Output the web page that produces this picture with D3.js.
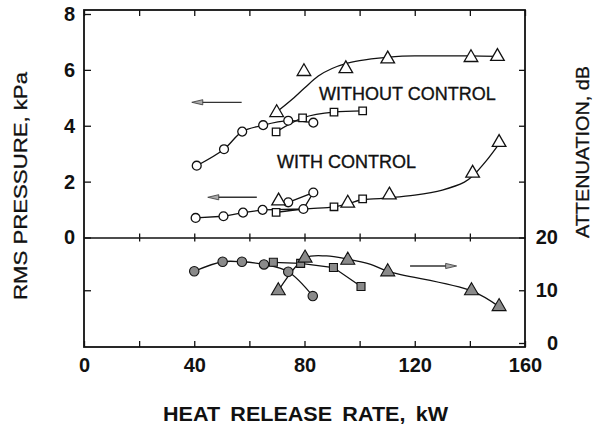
<!DOCTYPE html>
<html><head><meta charset="utf-8">
<script src="https://cdn.jsdelivr.net/npm/d3@7"></script>
<style>body{margin:0;background:#fff}</style>
</head><body>
<svg id="chart" width="601" height="425"></svg>
<script>
// ---------- data ----------
const xTicks = [0, 20, 40, 60, 80, 100, 120, 140, 160];
const xLabelTicks = [0, 40, 80, 120, 160];
const pTicks = [0, 2, 4, 6, 8];
const aTicks = [0, 10, 20];

// RMS pressure, without control
const woCircleHeat = [40.9, 50.8, 57.4, 65, 74.1, 83.2];
const woCircleP    = [2.57, 3.16, 3.79, 4.02, 4.18, 4.11];
const woSquareHeat = [69.7, 79.3, 90.7, 101.1];
const woSquareP    = [3.78, 4.28, 4.49, 4.53];
const woTriHeat    = [69.9, 79.8, 95, 110.2, 140.4, 150];
const woTriP       = [4.47, 5.94, 6.04, 6.39, 6.44, 6.48];
const woTriFitHeat = [70, 75, 80, 85, 90, 95, 100, 110, 120, 140, 150];
const woTriFitP    = [4.5, 4.9, 5.35, 5.78, 6.05, 6.22, 6.33, 6.45, 6.5, 6.5, 6.48];

// RMS pressure, with control
const wcCircleHeat = [40.5, 50.6, 57.7, 64.8, 79.6, 83.2, 74.1];
const wcCircleP    = [0.70, 0.76, 0.89, 0.99, 1.02, 1.61, 1.26];
const wcSquareHeat = [69.7, 90.7, 101.1];
const wcSquareP    = [0.9, 1.1, 1.38];
const wcTriHeat    = [70.6, 95.7, 110.8, 141, 150.6];
const wcTriP       = [1.31, 1.23, 1.52, 2.3, 3.4];
const wcFitHeat    = [69.7, 80, 90.7, 95.7, 101, 105, 110, 120, 130, 138, 141, 146, 150.6];
const wcFitP       = [0.9, 1.02, 1.1, 1.2, 1.36, 1.38, 1.42, 1.52, 1.7, 1.98, 2.2, 2.75, 3.35];

// Attenuation
const atCircleHeat = [40, 50.3, 57.3, 65.3, 74.1, 83];
const atCircleA    = [13.6, 15.4, 15.4, 14.9, 13.5, 8.9];
const atSquareHeat = [68.7, 78.6, 90.5, 100.5];
const atSquareA    = [15.3, 15.1, 14.3, 10.7];
const atTriHeat    = [70.5, 80.2, 95.7, 110.2, 140.6, 150.6];
const atTriA       = [9.9, 16.1, 15.7, 13.5, 9.9, 6.9];
const atTriFitHeat = [70.5, 80.2, 88, 95.7, 104, 110.2, 140.6, 150.6];
const atTriFitA    = [9.9, 16.1, 16.5, 15.9, 14.9, 13.6, 9.9, 6.9];

// arrows (axis they refer to), heat from -> to, value
const arrowPanel   = ["p", "p", "a"];
const arrowFromX   = [57.2, 62.7, 118.3];
const arrowToX     = [39.1, 44.9, 135.2];
const arrowVal     = [4.84, 1.44, 14.6];

const labels = {
  x: "HEAT RELEASE RATE, kW",
  yl: "RMS PRESSURE, kPa",
  yr: "ATTENUATION, dB",
  wo: "WITHOUT CONTROL",
  wc: "WITH CONTROL"
};

// ---------- layout ----------
const svg = d3.select("#chart");
const FONT = "'Liberation Sans', Arial, Helvetica, sans-serif";
const fL = 84, fR = 525, fT = 10, fB = 347, sepY = 237.5;

const x  = d3.scaleLinear([0, 160], [fL, fR]);
const yP = d3.scaleLinear([0, 8], [sepY, 14]);
const yA = d3.scaleLinear([0, 20], [343, sepY]);

const zip = (a, b) => a.map((v, i) => [v, b[i]]);

// frame
svg.append("rect").attr("x", fL).attr("y", fT)
  .attr("width", fR - fL).attr("height", fB - fT)
  .attr("fill", "none").attr("stroke", "#111").attr("stroke-width", 1.8);

function styleAxis(g, keepDomain) {
  if (!keepDomain) g.select(".domain").remove();
  g.selectAll(".tick line").attr("stroke", "#111").attr("stroke-width", 1.3);
  g.selectAll("text").attr("font-family", FONT).attr("font-size", 20)
    .attr("font-weight", "bold").attr("fill", "#111");
}

// bottom axis
const gB = svg.append("g").attr("transform", `translate(0,${fB})`)
  .call(d3.axisBottom(x).tickValues(xTicks).tickSizeInner(-6).tickSizeOuter(0)
    .tickFormat(d => xLabelTicks.includes(d) ? d : ""));
styleAxis(gB);
gB.selectAll("text").attr("y", 25).attr("dy", 0);

// top axis
const gT = svg.append("g").attr("transform", `translate(0,${fT})`)
  .call(d3.axisTop(x).tickValues(xTicks).tickSizeInner(-6).tickSizeOuter(0).tickFormat(""));
styleAxis(gT);

// separator axis with crossing ticks
const gS1 = svg.append("g").attr("transform", `translate(0,${sepY})`)
  .call(d3.axisBottom(x).tickValues(xTicks.slice(1, -1)).tickSizeInner(4).tickSizeOuter(0).tickFormat(""));
styleAxis(gS1, true);
gS1.select(".domain").attr("stroke", "#111").attr("stroke-width", 1.6);
const gS2 = svg.append("g").attr("transform", `translate(0,${sepY})`)
  .call(d3.axisTop(x).tickValues(xTicks.slice(1, -1)).tickSizeInner(4).tickSizeOuter(0).tickFormat(""));
styleAxis(gS2);

// left axes
const gL = svg.append("g").attr("transform", `translate(${fL},0)`)
  .call(d3.axisLeft(yP).tickValues(pTicks).tickSizeInner(-7).tickSizeOuter(0).tickPadding(9));
styleAxis(gL);
const gL2 = svg.append("g").attr("transform", `translate(${fL},0)`)
  .call(d3.axisLeft(yA).tickValues([10]).tickSizeInner(-7).tickSizeOuter(0).tickFormat(""));
styleAxis(gL2);

// right axes
const gR = svg.append("g").attr("transform", `translate(${fR},0)`)
  .call(d3.axisRight(yP).tickValues([2, 4, 6]).tickSizeInner(-6).tickSizeOuter(0).tickFormat(""));
styleAxis(gR);
const gR2 = svg.append("g").attr("transform", `translate(${fR},0)`)
  .call(d3.axisRight(yA).tickValues(aTicks).tickSizeInner(-6).tickSizeOuter(0));
styleAxis(gR2);
gR2.selectAll("text").attr("text-anchor", "end").attr("x", 33);

// ---------- lines ----------
const plot = svg.append("g");
function drawLine(pts, ys, curve) {
  plot.append("path")
    .attr("d", d3.line().x(d => x(d[0])).y(d => ys(d[1])).curve(curve)(pts))
    .attr("fill", "none").attr("stroke", "#111").attr("stroke-width", 1.3);
}
drawLine(zip(woCircleHeat, woCircleP), yP, d3.curveCatmullRom);
drawLine(zip(woSquareHeat, woSquareP), yP, d3.curveMonotoneX);
drawLine(zip(woTriFitHeat, woTriFitP), yP, d3.curveMonotoneX);
drawLine(zip(wcCircleHeat, wcCircleP), yP, d3.curveLinear);
drawLine(zip(wcFitHeat, wcFitP), yP, d3.curveCatmullRom);
drawLine(zip(atCircleHeat, atCircleA), yA, d3.curveCatmullRom);
drawLine(zip(atSquareHeat, atSquareA), yA, d3.curveLinear);
drawLine(zip(atTriFitHeat, atTriFitA), yA, d3.curveCatmullRom);

// ---------- markers ----------
function drawMarkers(pts, ys, type, filled, size) {
  plot.selectAll(null).data(pts).enter().append("path")
    .attr("transform", d => `translate(${x(d[0])},${ys(d[1])})`)
    .attr("d", d3.symbol().type(type).size(size)())
    .attr("fill", filled ? "#8a8a8a" : "#fff")
    .attr("stroke", "#111").attr("stroke-width", filled ? 1.1 : 1.3);
}
drawMarkers(zip(woCircleHeat, woCircleP), yP, d3.symbolCircle, false, 62);
drawMarkers(zip(woSquareHeat, woSquareP), yP, d3.symbolSquare, false, 56);
drawMarkers(zip(woTriHeat, woTriP), yP, d3.symbolTriangle, false, 80);
drawMarkers(zip(wcCircleHeat, wcCircleP), yP, d3.symbolCircle, false, 62);
drawMarkers(zip(wcSquareHeat, wcSquareP), yP, d3.symbolSquare, false, 56);
drawMarkers(zip(wcTriHeat, wcTriP), yP, d3.symbolTriangle, false, 80);
drawMarkers(zip(atCircleHeat, atCircleA), yA, d3.symbolCircle, true, 70);
drawMarkers(zip(atSquareHeat, atSquareA), yA, d3.symbolSquare, true, 64);
drawMarkers(zip(atTriHeat, atTriA), yA, d3.symbolTriangle, true, 85);

// ---------- arrows ----------
arrowPanel.forEach((p, i) => {
  const ys = p === "p" ? yP : yA;
  const x1 = x(arrowFromX[i]), x2 = x(arrowToX[i]), yy = ys(arrowVal[i]);
  const dir = Math.sign(x2 - x1);
  svg.append("line").attr("x1", x1).attr("x2", x2 - dir * 6).attr("y1", yy).attr("y2", yy)
    .attr("stroke", "#333").attr("stroke-width", 1.3);
  svg.append("path")
    .attr("d", `M${x2},${yy} L${x2 - dir * 11},${yy - 2.6} L${x2 - dir * 11},${yy + 2.6} Z`)
    .attr("fill", "#aaa").attr("stroke", "#333").attr("stroke-width", 0.8);
});

// ---------- texts ----------
svg.append("text").attr("x", 319).attr("y", 100).text(labels.wo)
  .attr("font-family", FONT).attr("font-size", 18).attr("fill", "#111")
  .attr("stroke", "#111").attr("stroke-width", 0.35);
svg.append("text").attr("x", 277).attr("y", 168).text(labels.wc)
  .attr("font-family", FONT).attr("font-size", 18).attr("fill", "#111")
  .attr("stroke", "#111").attr("stroke-width", 0.35);

svg.append("text").attr("x", 305.5).attr("y", 421).text(labels.x)
  .attr("text-anchor", "middle").attr("font-family", FONT).attr("font-size", 20)
  .attr("font-weight", "bold").attr("fill", "#111").attr("word-spacing", 4)
  .attr("textLength", 285).attr("lengthAdjust", "spacingAndGlyphs");

svg.append("text").attr("transform", "translate(27,186) rotate(-90)").text(labels.yl)
  .attr("text-anchor", "middle").attr("font-family", FONT).attr("font-size", 19)
  .attr("fill", "#111").attr("stroke", "#111").attr("stroke-width", 0.3)
  .attr("textLength", 228).attr("lengthAdjust", "spacingAndGlyphs");

svg.append("text").attr("transform", "translate(589,152) rotate(-90)").text(labels.yr)
  .attr("text-anchor", "middle").attr("font-family", FONT).attr("font-size", 19)
  .attr("fill", "#111").attr("stroke", "#111").attr("stroke-width", 0.3)
  .attr("textLength", 172).attr("lengthAdjust", "spacingAndGlyphs");
</script>
</body></html>
